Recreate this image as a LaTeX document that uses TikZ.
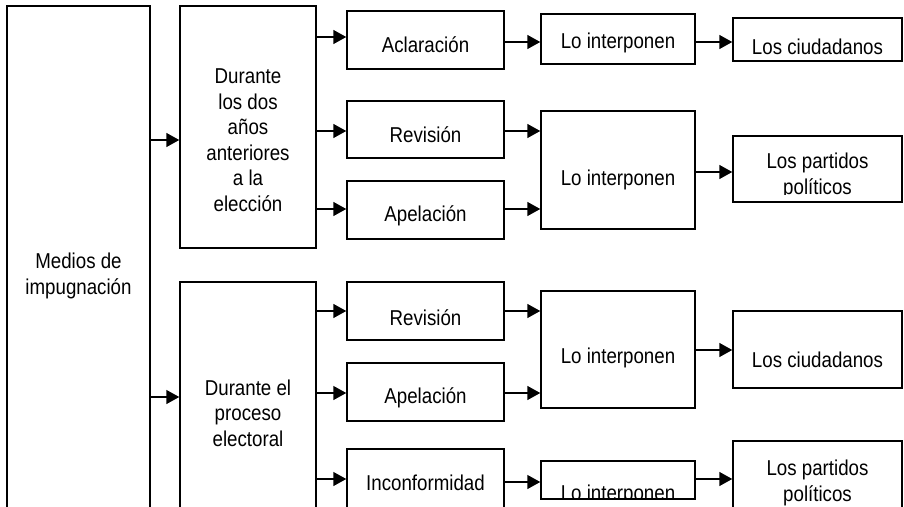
\documentclass[tikz,border=0pt]{standalone}
\usepackage{fontspec}
\setmainfont{Liberation Sans}[FakeStretch=0.87]
\usetikzlibrary{arrows.meta}
\begin{document}
\begin{tikzpicture}[x=1pt,y=-1pt,
  box/.style={draw, line width=1.5pt, inner sep=0pt},
  txt/.style={font=\fontsize{21.5}{25.5}\selectfont, align=center, inner sep=0pt},
  arr/.style={line width=1.5pt, -{Triangle[length=13pt,width=14pt]}}]
\useasboundingbox (0,0) rectangle (904,506);
\fill[white] (0,0) rectangle (904,506);
\clip (0,0) rectangle (904,506);
% column 1 and 2
\node[box, minimum width=143pt, minimum height=514pt] (med) at (78.5,263) {};
\node[box, minimum width=136pt, minimum height=242pt] (d1) at (248,127) {};
\node[box, minimum width=136pt, minimum height=238pt] (d2) at (248,401) {};
% column 3
\node[box, minimum width=157pt, minimum height=58pt] (acl) at (425.5,40) {};
\node[box, minimum width=157pt, minimum height=57pt] (rev1) at (425.5,129.5) {};
\node[box, minimum width=157pt, minimum height=58pt] (ape1) at (425.5,210) {};
\node[box, minimum width=157pt, minimum height=58pt] (rev2) at (425.5,311) {};
\node[box, minimum width=157pt, minimum height=58pt] (ape2) at (425.5,392) {};
\node[box, minimum width=157pt, minimum height=71pt] (inc) at (425.5,484.5) {};
% column 4
\node[box, minimum width=154pt, minimum height=50pt] (li1) at (618,39) {};
\node[box, minimum width=154pt, minimum height=118pt] (li2) at (618,170) {};
\node[box, minimum width=154pt, minimum height=117pt] (li3) at (618,349.5) {};
\node[box, minimum width=154pt, minimum height=38pt] (li4) at (618,480) {};
% column 5
\node[box, minimum width=169pt, minimum height=43pt] (lc1) at (817.5,39.5) {};
\node[box, minimum width=169pt, minimum height=66pt] (lp1) at (817.5,169) {};
\node[box, minimum width=169pt, minimum height=77pt] (lc2) at (817.5,349.5) {};
\node[box, minimum width=169pt, minimum height=79pt] (lp2) at (817.5,480.5) {};
% texts
\node[txt] (tmed) at (78.5,276) {Medios de\\impugnación};
\node[txt] (td1) at (248,140) {Durante\\los dos\\años\\anteriores\\a la\\elección};
\node[txt] (td2) at (248,413) {Durante el\\proceso\\electoral};
\node[txt] (tacl) at (425.5,45) {Aclaración};
\node[txt] (trev1) at (425.5,135) {Revisión};
\node[txt] (tape1) at (425.5,216) {Apelación};
\node[txt] (trev2) at (425.5,318) {Revisión};
\node[txt] (tape2) at (425.5,398) {Apelación};
\node[txt] (tinc) at (425.5,483) {Inconformidad};
\node[txt] (tli1) at (618,43) {Lo interponen};
\node[txt] (tli2) at (618,180) {Lo interponen};
\node[txt] (tli3) at (618,358) {Lo interponen};
\node[txt] (tlc1) at (817.5,47) {Los ciudadanos};
\node[txt] (tlc2) at (817.5,360) {Los ciudadanos};
\node[txt] (tlp2) at (817.5,483) {Los partidos\\políticos};
\begin{scope}
  \clip (lp1.north west) rectangle ([yshift=8pt]lp1.south east);
  \node[txt] (tlp1) at (817.5,176) {Los partidos\\políticos};
\end{scope}
\begin{scope}
  \clip (li4.north west) rectangle ([yshift=1pt]li4.south east);
  \node[txt, anchor=base] (tli4) at (618,500) {Lo interponen};
\end{scope}
% connectors
\draw[arr] (med.east |- 0,140) -- (d1.west |- 0,140);
\draw[arr] (med.east |- 0,397) -- (d2.west |- 0,397);
\draw[arr] (d1.east |- 0,37) -- (acl.west |- 0,37);
\draw[arr] (d1.east |- 0,131) -- (rev1.west |- 0,131);
\draw[arr] (d1.east |- 0,209) -- (ape1.west |- 0,209);
\draw[arr] (d2.east |- 0,311) -- (rev2.west |- 0,311);
\draw[arr] (d2.east |- 0,393) -- (ape2.west |- 0,393);
\draw[arr] (d2.east |- 0,479) -- (inc.west |- 0,479);
\draw[arr] (acl.east |- 0,42) -- (li1.west |- 0,42);
\draw[arr] (rev1.east |- 0,131) -- (li2.west |- 0,131);
\draw[arr] (ape1.east |- 0,209) -- (li2.west |- 0,209);
\draw[arr] (rev2.east |- 0,311) -- (li3.west |- 0,311);
\draw[arr] (ape2.east |- 0,393) -- (li3.west |- 0,393);
\draw[arr] (inc.east |- 0,482) -- (li4.west |- 0,482);
\draw[arr] (li1.east |- 0,42) -- (lc1.west |- 0,42);
\draw[arr] (li2.east |- 0,172) -- (lp1.west |- 0,172);
\draw[arr] (li3.east |- 0,350) -- (lc2.west |- 0,350);
\draw[arr] (li4.east |- 0,479) -- (lp2.west |- 0,479);
\end{tikzpicture}
\end{document}
